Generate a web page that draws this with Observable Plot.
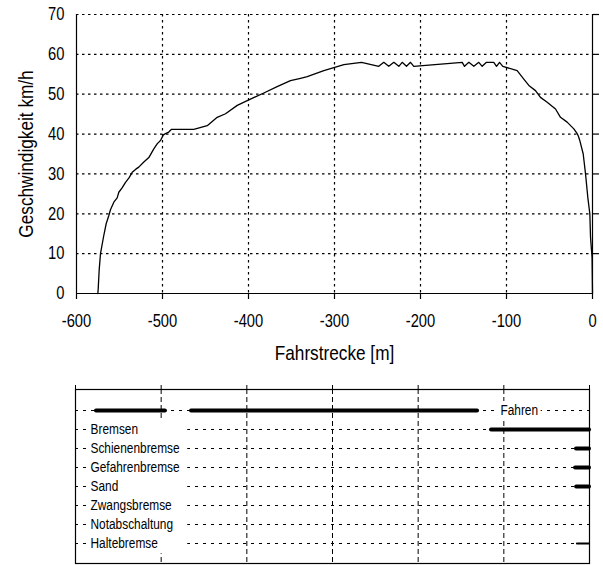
<!DOCTYPE html>
<html><head><meta charset="utf-8">
<script src="https://cdn.jsdelivr.net/npm/d3@7"></script>
<script src="https://cdn.jsdelivr.net/npm/@observablehq/plot@0.6"></script>
<style>
body{margin:0;background:#fff;}
#chart{width:603px;height:565px;position:relative;background:#fff;}
#chart svg{display:block;}
#err{position:absolute;left:0;top:0;color:red;font:10px sans-serif;}
</style></head><body><div id="chart"></div><div id="err"></div>
<script>
window.onerror = (m) => { document.getElementById("err").textContent += m + " | "; };
const FONT = '"Liberation Sans Narrow","Arial Narrow","Liberation Sans",Arial,sans-serif';

// Speed profile: distance before stop [m] and speed [km/h]
const distance = [-575.2,-574.8,-573.6,-572.1,-568.5,-565.5,-562.5,-560.5,-556.6,-552.7,-550.8,-547,-543,-539,-535.2,-531,-527.6,-521.7,-515.9,-510.1,-506,-502.3,-499,-496.5,-492.7,-489.5,-463.6,-448,-436.4,-426.7,-413.1,-399.6,-382.2,-366.7,-351.2,-339.5,-331.7,-312.4,-298.8,-289.1,-268.6,-248.5,-242.7,-236.9,-231.0,-225.2,-221.3,-216.3,-211.6,-207.8,-151.5,-148.8,-143.8,-138.0,-132.2,-128.3,-123.3,-114.8,-111.6,-108.1,-104.3,-87.6,-79.9,-74.0,-66.3,-60.5,-52.7,-43.0,-37.2,-29.5,-21.7,-17.8,-16.5,-14.8,-10.8,-8.1,-5.5,-3.1,-2.3,-0.5,0];
const speed    = [0,1,6,10,14.3,17.5,19.5,21,22.9,24,25.4,26.5,27.9,29,30.4,31.2,31.7,33,34.1,36.3,37.6,38.4,39.8,40.1,40.5,41.2,41.2,42.1,44.2,45.1,47.2,48.6,50.3,51.9,53.4,54,54.4,55.9,56.8,57.4,58.0,57.0,58.0,57.0,58.0,57.0,58.0,57.0,58.0,57.0,58.0,57.0,58.0,57.0,58.0,57.0,58.0,58.0,57.0,58.0,57.0,55.9,53.8,52.2,50.9,49.2,48.0,46.3,44.2,43.0,41.3,40.1,39.5,38.4,35.0,30.0,24.2,20,14.1,9,0];

const xTicks = [-600,-500,-400,-300,-200,-100,0];
const yTicks = [0,10,20,30,40,50,60,70];

// Signal timeline
const signals = ["Fahren","Bremsen","Schienenbremse","Gefahrenbremse","Sand","Zwangsbremse","Notabschaltung","Haltebremse"];
const barSignal = ["Fahren","Fahren","Bremsen","Schienenbremse","Gefahrenbremse","Sand","Haltebremse"];
const barStart  = [-575.5,-464.6,-114.4,-15.2,-16.3,-15,-14];
const barEnd    = [-495,-130.7,0,0,0,0,0];

const curve = distance.map((d, i) => ({x: d, y: speed[i]}));
const bars = barSignal.map((s, i) => ({signal: s, x1: barStart[i], x2: barEnd[i]}));
// blank label column of the signal panel (from just after the left lead-in to the start of the dotted row lines)
const labelColumn = signals.slice(1).map(s => ({signal: s, from: -585.5, to: -469}));
const dots = "2.5,3.5";

const topChart = Plot.plot({
  width: 603, height: 370,
  marginLeft: 76, marginRight: 11, marginTop: 14, marginBottom: 77,
  style: {fontFamily: FONT, fontSize: "18px", color: "#000", background: "#fff", overflow: "visible"},
  x: {domain: [-600, 0]},
  y: {domain: [0, 70]},
  marks: [
    Plot.ruleY(yTicks.filter(v => v > 0), {stroke: "#000", strokeWidth: 1.2, strokeDasharray: dots}),
    Plot.ruleX(xTicks.filter(v => v > -600 && v < 0), {stroke: "#000", strokeWidth: 1.2, strokeDasharray: dots}),
    Plot.ruleX(d3.extent(xTicks), {stroke: "#000", strokeWidth: 1.2}),
    Plot.ruleY([0], {stroke: "#000", strokeWidth: 1.2}),
    Plot.axisX({ticks: xTicks, tickSize: 6, tickPadding: 15, tickFormat: d => String(d), label: null, fontSize: 18, strokeWidth: 1.2}),
    Plot.axisY({ticks: yTicks, tickSize: 0, tickPadding: 12, tickFormat: d => String(d), label: null, fontSize: 18}),
    Plot.axisY({anchor: "right", ticks: yTicks.filter(v => v > 0), tickSize: 6, tickFormat: () => "", label: null, strokeWidth: 1.2}),
    Plot.line(curve, {x: "x", y: "y", stroke: "#000", strokeWidth: 1.3}),
    Plot.text(["Fahrstrecke [m]"], {frameAnchor: "bottom", dy: 60, text: d => d, fontSize: 21, textAnchor: "middle", lineAnchor: "middle", fill: "#000"}),
    Plot.text(["Geschwindigkeit km/h"], {frameAnchor: "left", dx: -50, rotate: -90, text: d => d, fontSize: 21, textAnchor: "middle", lineAnchor: "middle", fill: "#000"})
  ]
});

const bottomChart = Plot.plot({
  width: 603, height: 195,
  marginLeft: 75, marginRight: 14, marginTop: 19, marginBottom: 2,
  style: {fontFamily: FONT, fontSize: "14.5px", color: "#000", background: "#fff", overflow: "visible"},
  x: {domain: [-600, 0], axis: null},
  y: {type: "point", domain: signals, padding: 1, axis: null},
  marks: [
    Plot.ruleX(xTicks.filter(v => v > -600 && v < 0), {stroke: "#000", strokeWidth: 1, strokeDasharray: "5,3"}),
    Plot.ruleY(signals, {y: d => d, stroke: "#000", strokeWidth: 1, strokeDasharray: "3,5"}),
    Plot.ruleY(labelColumn, {y: "signal", x1: "from", x2: "to", stroke: "white", strokeWidth: 19.6}),
    Plot.text(signals.slice(1), {y: d => d, frameAnchor: "left", dx: 15, text: d => d, textAnchor: "start", fontSize: 14.5, fill: "#000"}),
    Plot.text([signals[0]], {y: d => d, x: -104, text: d => d, textAnchor: "start", fontSize: 14.5, fill: "#000", stroke: "#fff", strokeWidth: 8, paintOrder: "stroke"}),
    Plot.ruleY(bars, {y: "signal", x1: "x1", x2: "x2", stroke: "#000", strokeWidth: d => d.signal === "Haltebremse" ? 2.2 : 4, strokeLinecap: "round"}),
    Plot.axisX({anchor: "top", ticks: xTicks, tickSize: 5, tickFormat: () => "", label: null}),
    Plot.frame({stroke: "#000", strokeWidth: 1.2})
  ]
});

const root = document.getElementById("chart");
root.appendChild(topChart);
root.appendChild(bottomChart);

// Emulate the narrow Helvetica of the original by condensing each text along its reading direction
function condense(svg, k) {
  svg.querySelectorAll("text").forEach(t => {
    const r = t.getBoundingClientRect();
    if (!r.width || !t.textContent.trim()) return;
    const parent = t.parentNode;
    const inv = parent.getScreenCTM().inverse();
    const vertical = r.height > r.width * 1.5 && t.textContent.length > 3;
    const anchor = getComputedStyle(t).textAnchor;
    let sx, sy = r.top + r.height / 2;
    if (vertical) sx = r.left + r.width / 2;
    else sx = anchor === "end" ? r.right : anchor === "middle" ? r.left + r.width / 2 : r.left;
    const pt = svg.createSVGPoint(); pt.x = sx; pt.y = sy;
    const p = pt.matrixTransform(inv);
    const g = document.createElementNS("http://www.w3.org/2000/svg", "g");
    g.setAttribute("transform", `translate(${p.x},${p.y}) scale(${vertical ? 1 : k},${vertical ? k : 1}) translate(${-p.x},${-p.y})`);
    parent.insertBefore(g, t);
    g.appendChild(t);
  });
}
const ctx = document.createElement("canvas").getContext("2d");
ctx.font = '20px "Liberation Sans Narrow", "Liberation Sans"';
const wNarrow = ctx.measureText("Geschwindigkeit").width;
ctx.font = '20px "Liberation Sans"';
const wRegular = ctx.measureText("Geschwindigkeit").width;
if (wNarrow / wRegular > 0.9) { condense(topChart, 0.82); condense(bottomChart, 0.82); }
</script>
</body></html>
